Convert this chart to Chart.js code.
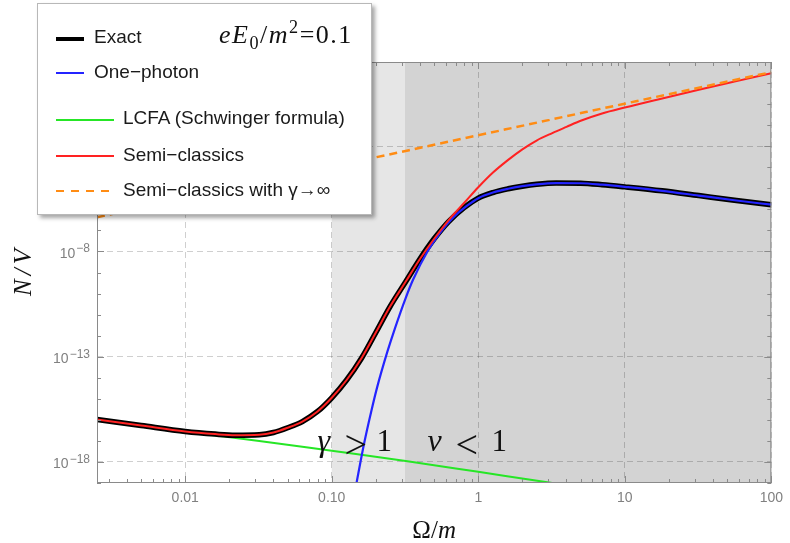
<!DOCTYPE html>
<html>
<head>
<meta charset="utf-8">
<title>N/V against Ω/m</title>
<script src="https://cdn.jsdelivr.net/npm/chart.js@4.4.1/dist/chart.umd.min.js"></script>
<style>
  html, body { margin: 0; padding: 0; background: #fff; }
  #wrap { position: relative; width: 790px; height: 543px; overflow: hidden; }
  #myChart { position: absolute; left: 0; top: 0; }
  #legend { position: absolute; left: 37px; top: 3px; width: 333px; height: 210px; background: #fff;
            border: 1px solid #b8b8b8; box-shadow: 3px 3px 4px rgba(0,0,0,0.35);
            font-family: "Liberation Sans", Arial, sans-serif; font-size: 19px; color: #1a1a1a; }
  .row { position: absolute; white-space: nowrap; line-height: 22px; }
  .swatch { position: absolute; }
  #field { position: absolute; left: 181px; top: 16px; line-height: 30px; white-space: nowrap; letter-spacing: 1.5px;
           font-family: "Liberation Serif", "DejaVu Serif", serif; font-size: 26px; color: #111; }
  #field sub, #field sup { font-size: 70%; line-height: 0; }
</style>
</head>
<body>
<div id="wrap">
  <canvas id="myChart" width="790" height="543"></canvas>
  <div id="legend"><div id="field"><i>eE</i><sub>0</sub>/<i>m</i><sup>2</sup>=0.1</div></div>
</div>
<script>
// values (Ω/m and N/V)
const omegaExact = [0.0025, 0.005, 0.01, 0.016, 0.022, 0.032, 0.04, 0.05, 0.063, 0.08, 0.1, 0.126, 0.16, 0.2, 0.25, 0.32, 0.4, 0.5, 0.63, 0.8, 1, 1.26, 1.6, 2, 2.5, 3.4, 5, 7, 10, 18, 32, 56, 100]
const nExact = [1.05e-16, 5.4e-17, 2.8e-17, 2.1e-17, 1.86e-17, 1.95e-17, 2.5e-17, 4.2e-17, 8.3e-17, 2.5e-16, 1.12e-15, 7.6e-15, 8.7e-14, 1.41e-12, 2.4e-11, 3.7e-10, 4.4e-9, 4.0e-8, 2.7e-7, 1.2e-6, 3.4e-6, 6.3e-6, 9.5e-6, 1.26e-5, 1.55e-5, 1.78e-5, 1.74e-5, 1.48e-5, 1.17e-5, 7.6e-6, 4.5e-6, 2.7e-6, 1.66e-6]

const omegaOne = [0.138, 0.148, 0.166, 0.186, 0.204, 0.24, 0.27, 0.32, 0.36, 0.45, 0.55, 0.68, 0.83, 1, 1.26, 1.6, 2, 2.5, 3.4, 5, 7, 10, 18, 32, 56, 100]
const nOne = [8e-21, 1.1e-19, 7.1e-18, 2.5e-16, 3.5e-15, 1.78e-13, 2.24e-12, 6.3e-11, 4.8e-10, 1.0e-8, 7.9e-8, 4.3e-7, 1.41e-6, 3.4e-6, 6.3e-6, 9.5e-6, 1.26e-5, 1.55e-5, 1.78e-5, 1.74e-5, 1.48e-5, 1.17e-5, 7.6e-6, 4.5e-6, 2.7e-6, 1.66e-6]

const omegaLcfa = [0.0025, 0.01, 0.032, 0.1, 0.32, 1, 3.2, 4]
const nLcfa = [1.05e-16, 2.7e-17, 1.0e-17, 3.4e-18, 1.12e-18, 3.4e-19, 1.0e-19, 8e-20]

const omegaSemi = [0.0025, 0.005, 0.01, 0.016, 0.022, 0.032, 0.04, 0.05, 0.063, 0.08, 0.1, 0.126, 0.16, 0.2, 0.25, 0.32, 0.4, 0.5, 0.63, 0.8, 1, 1.26, 1.6, 2, 2.5, 3.2, 4, 5, 7, 10, 18, 32, 56, 100]
const nSemi = [1.05e-16, 5.4e-17, 2.8e-17, 2.1e-17, 1.86e-17, 1.95e-17, 2.5e-17, 4.2e-17, 8.3e-17, 2.5e-16, 1.12e-15, 7.6e-15, 8.7e-14, 1.41e-12, 2.4e-11, 3.7e-10, 4.4e-9, 4.0e-8, 3.2e-7, 2.0e-6, 1.12e-5, 5.6e-5, 2.24e-4, 7.1e-4, 1.86e-3, 4.2e-3, 8.3e-3, 1.62e-2, 3.6e-2, 6.9e-2, 0.186, 0.48, 1.17, 2.9]

const omegaInf = [0.0025, 0.01, 0.1, 1, 10, 100]
const nInf = [4.2e-7, 3.3e-6, 1.05e-4, 3.3e-3, 0.105, 3.3]

const seriesNames = ['Exact', 'One\u2212photon', 'LCFA (Schwinger formula)', 'Semi\u2212classics', 'Semi\u2212classics with \u03b3\u2192\u221e']

const xTickVals = [0.01, 0.1, 1, 10, 100]
const xTickLabels = ['0.01', '0.10', '1', '10', '100']
const yTickVals = [1e-18, 1e-13, 1e-8, 1e-3]
const yTickExps = ['\u221218', '\u221213', '\u22128', '\u22123']

// shaded Ω/m ranges
const lightBand = [0.1, 0.316]
const darkBand = [0.316, 100]

const toPoints = (xs, ys) => xs.map((x, i) => ({ x: x, y: ys[i] }))

let bandPlugin = {
    id: 'bands',
    beforeDraw: (chart) => {
        const { ctx, chartArea: a, scales: { x } } = chart
        ctx.save()
        ctx.fillStyle = '#e6e6e6'
        let x0 = x.getPixelForValue(lightBand[0]), x1 = x.getPixelForValue(lightBand[1])
        ctx.fillRect(x0, a.top, x1 - x0, a.bottom - a.top)
        ctx.fillStyle = '#d3d3d3'
        x0 = x.getPixelForValue(darkBand[0]); x1 = x.getPixelForValue(darkBand[1])
        ctx.fillRect(x0, a.top, x1 - x0, a.bottom - a.top)
        ctx.restore()
    }
}

let framePlugin = {
    id: 'frame',
    afterDatasetsDraw: (chart) => {
        const { ctx, chartArea: a, scales: { x, y } } = chart
        ctx.save()
        ctx.strokeStyle = '#8a8a8a'
        ctx.lineWidth = 1
        ctx.strokeRect(a.left + 0.5, a.top + 0.5, a.right - a.left - 1, a.bottom - a.top - 1)

        /* ticks pointing inward on all four sides */
        ctx.beginPath()
        for (let e = -3; e <= 2; e++) {
            for (let k = 1; k <= 9; k++) {
                const v = k * Math.pow(10, e)
                if (v < x.min * 0.999 || v > x.max * 1.001) continue
                const px = Math.round(x.getPixelForValue(v)) + 0.5
                const len = k === 1 ? 7 : 4
                ctx.moveTo(px, a.bottom); ctx.lineTo(px, a.bottom - len)
                ctx.moveTo(px, a.top); ctx.lineTo(px, a.top + len)
            }
        }
        for (let e = -19; e <= 1; e++) {
            const py = Math.round(y.getPixelForValue(Math.pow(10, e))) + 0.5
            const len = (e + 18) % 5 === 0 ? 7 : 4
            ctx.moveTo(a.left, py); ctx.lineTo(a.left + len, py)
            ctx.moveTo(a.right, py); ctx.lineTo(a.right - len, py)
        }
        ctx.stroke()
        ctx.restore()
    },
    afterDraw: (chart) => {
        const { ctx, chartArea: a, scales: { x, y } } = chart
        const serif = '"Liberation Serif", "DejaVu Serif", serif'
        const sans = '"Liberation Sans", Arial, sans-serif'
        ctx.save()

        /* y tick labels: 10 with a raised exponent */
        ctx.fillStyle = '#808080'
        ctx.textAlign = 'right'
        ctx.textBaseline = 'alphabetic'
        yTickVals.forEach((v, i) => {
            const py = y.getPixelForValue(v)
            ctx.font = '12px ' + sans
            const we = ctx.measureText(yTickExps[i]).width
            ctx.fillText(yTickExps[i], a.left - 7, py + 1)
            ctx.font = '14px ' + sans
            ctx.fillText('10', a.left - 8 - we, py + 6.5)
        })

        ctx.fillStyle = '#111'
        ctx.textAlign = 'left'

        /* region notes, each glyph with its own offset and size */
        const notes = [
            { at: [0.08, 3.2e-18], parts: [['\u03b3', 'italic 32px', 0, 0], ['>', '40px', 27, 7], ['1', '31px', 59, 0]] },
            { at: [0.45, 3.2e-18], parts: [['\u03bd', 'italic 32px', 0, 0], ['<', '40px', 28, 7], ['1', '31px', 64, 0]] }
        ]
        notes.forEach(n => {
            const px = x.getPixelForValue(n.at[0]), py = y.getPixelForValue(n.at[1])
            n.parts.forEach(p => {
                ctx.font = p[1] + ' ' + serif
                ctx.fillText(p[0], px + p[2], py + p[3])
            })
        })

        /* x title: upright Ω, italic m */
        ctx.font = '25px ' + serif
        const w1 = ctx.measureText('\u03a9/').width
        ctx.font = 'italic 25px ' + serif
        const w2 = ctx.measureText('m').width
        let cx = (a.left + a.right) / 2 - (w1 + w2) / 2
        ctx.font = '25px ' + serif
        ctx.fillText('\u03a9/', cx, a.bottom + 55)
        ctx.font = 'italic 25px ' + serif
        ctx.fillText('m', cx + w1, a.bottom + 55)

        /* y title, rotated */
        ctx.translate(31, (a.top + a.bottom) / 2)
        ctx.rotate(-Math.PI / 2)
        ctx.font = 'italic 25px ' + serif
        const parts = ['N', '/', 'V']
        const gap = 4
        const ws = parts.map(s => ctx.measureText(s).width)
        let tx = -(ws[0] + ws[1] + ws[2] + 2 * gap) / 2
        parts.forEach((s, i) => { ctx.fillText(s, tx, 0); tx += ws[i] + gap })
        ctx.restore()
    }
}

Chart.defaults.font.family = '"Liberation Sans", Arial, sans-serif'

const datasets = [
    { label: seriesNames[0], data: toPoints(omegaExact, nExact), borderColor: '#000000', borderWidth: 5.5, order: 3 },
    { label: seriesNames[1], data: toPoints(omegaOne, nOne), borderColor: '#2424ff', borderWidth: 2.2, order: 2 },
    { label: seriesNames[2], data: toPoints(omegaLcfa, nLcfa), borderColor: '#26e626', borderWidth: 2, order: 4 },
    { label: seriesNames[3], data: toPoints(omegaSemi, nSemi), borderColor: '#ff2222', borderWidth: 2, order: 1 },
    { label: seriesNames[4], data: toPoints(omegaInf, nInf), borderColor: '#ff8c14', borderWidth: 2.5, borderDash: [8, 5], order: 0 }
]
datasets.forEach(d => { d.clip = 0; d.fill = false; d.pointRadius = 0 })

const ctx = document.getElementById('myChart')
const chart = new Chart(ctx, {
    type: 'line',
    data: { datasets: datasets },
    options: {
        responsive: false,
        animation: false,
        layout: { padding: { top: 62, right: 12, left: 0, bottom: 0 } },
        elements: { line: { cubicInterpolationMode: 'monotone', borderCapStyle: 'butt', borderJoinStyle: 'round' } },
        plugins: { legend: { display: false }, tooltip: { enabled: false } },
        scales: {
            x: {
                type: 'logarithmic', min: 0.0025, max: 100,
                afterFit: (s) => { s.height = 60 },
                afterBuildTicks: (s) => { s.ticks = xTickVals.map(v => ({ value: v })) },
                ticks: { callback: (v, i) => xTickLabels[i], color: '#808080', font: { size: 14 }, padding: 7, maxRotation: 0, autoSkip: false },
                grid: { color: 'rgba(0,0,0,0.19)', drawTicks: false },
                border: { display: false, dash: [6, 4] }
            },
            y: {
                type: 'logarithmic', min: 1e-19, max: 10,
                afterFit: (s) => { s.width = 97 },
                afterBuildTicks: (s) => { s.ticks = yTickVals.map(v => ({ value: v })) },
                ticks: { display: false, autoSkip: false },
                grid: { color: 'rgba(0,0,0,0.19)', drawTicks: false },
                border: { display: false, dash: [6, 4] }
            }
        }
    },
    plugins: [bandPlugin, framePlugin]
})

/* legend box drawn over the plot, like the original */
const legendLayout = [
    { textLeft: 56, textTop: 22, swLeft: 18, swMid: 35, swWidth: 28 },
    { textLeft: 56, textTop: 57, swLeft: 18, swMid: 69, swWidth: 28 },
    { textLeft: 85, textTop: 103, swLeft: 18, swMid: 116, swWidth: 58 },
    { textLeft: 85, textTop: 140, swLeft: 18, swMid: 152, swWidth: 58 },
    { textLeft: 85, textTop: 175, swLeft: 18, swMid: 187, swWidth: 56 }
]
const legend = document.getElementById('legend')
datasets.forEach((d, i) => {
    const l = legendLayout[i]
    const h = i === 0 ? 4 : 2
    const sw = document.createElement('div')
    sw.className = 'swatch'
    sw.style.left = l.swLeft + 'px'
    sw.style.top = (l.swMid - h / 2) + 'px'
    sw.style.width = l.swWidth + 'px'
    sw.style.height = h + 'px'
    sw.style.background = d.borderDash
        ? 'repeating-linear-gradient(90deg, ' + d.borderColor + ' 0 8px, transparent 8px 15px)'
        : d.borderColor
    legend.appendChild(sw)
    const t = document.createElement('div')
    t.className = 'row'
    t.style.left = l.textLeft + 'px'
    t.style.top = l.textTop + 'px'
    t.textContent = d.label
    legend.appendChild(t)
})
</script>
</body>
</html>
